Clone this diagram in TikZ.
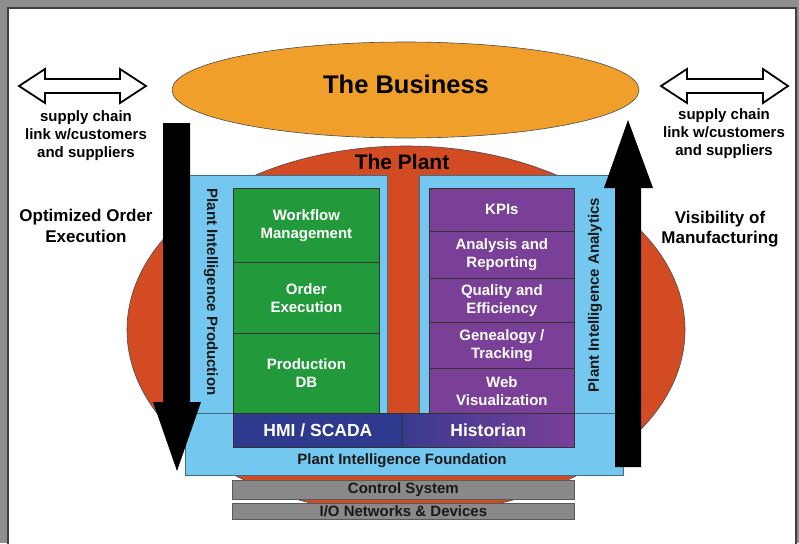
\documentclass[tikz,border=0pt]{standalone}
\usepackage{fontspec}
\setmainfont{Liberation Sans}
\usetikzlibrary{shapes.geometric}
\definecolor{bizorange}{HTML}{F0A02A}
\definecolor{plantred}{HTML}{D24B22}
\definecolor{piblue}{HTML}{74C7EE}
\definecolor{prodgreen}{HTML}{229A3B}
\definecolor{anapurple}{HTML}{7A3F97}
\definecolor{hmiblue}{HTML}{2E3A8E}
\definecolor{ctrlgray}{HTML}{898989}
\definecolor{framegray}{HTML}{8E8E8E}
\begin{document}
\begin{tikzpicture}[x=1pt,y=-1pt,
  blk/.style={draw=black!80, line width=0.8pt, inner sep=0pt, anchor=north west, align=center,
    font=\fontsize{15}{18}\selectfont\bfseries, text=white},
  panel/.style={draw=piblue!55!black, line width=0.6pt, fill=piblue, inner sep=0pt, anchor=north west},
  graybox/.style={draw=black!65, line width=0.8pt, fill=ctrlgray, inner sep=0pt, anchor=north west,
    font=\fontsize{15}{18}\selectfont\bfseries, text=black!90},
  small/.style={font=\fontsize{15}{18}\selectfont\bfseries, align=center, inner sep=0pt},
  side/.style={font=\fontsize{17}{20.5}\selectfont\bfseries, align=center, inner sep=0pt},
  dbl/.style={draw=black, line width=1.8pt, fill=white, line join=miter},
]
\useasboundingbox (0,0) rectangle (799,543);
% frame
\fill[framegray] (0,0) rectangle (799,543);
\draw[fill=white, draw=black!75, line width=1.6pt] (8,8) rectangle (796,560);

% ellipses
\node[ellipse, draw=black!70, line width=0.6pt, fill=plantred, minimum width=558pt, minimum height=368pt, inner sep=0pt] (plant) at (406,330) {};
\node[ellipse, draw=black!70, line width=0.6pt, fill=bizorange, minimum width=467pt, minimum height=96pt, inner sep=0pt] (biz) at (405.5,90) {};
\node[anchor=base, inner sep=0pt, font=\fontsize{25.5}{28}\selectfont\bfseries] (bizlabel) at (406,93) {The Business};
\node[anchor=base, inner sep=0pt, font=\fontsize{21}{24}\selectfont\bfseries] (plantlabel) at (402,169) {The Plant};

% blue panels
\node[panel, minimum width=200pt, minimum height=238pt] (prodpanel) at (187,175) {};
\node[panel, minimum width=201pt, minimum height=238pt] (anapanel) at (419,175) {};
\node[panel, minimum width=438pt, minimum height=62pt] (foundation) at (185,413) {};
\node[small, text=black!90] (foundlabel) at (402,461) {Plant Intelligence Foundation};

% green boxes
\node[blk, fill=prodgreen, minimum width=146pt, minimum height=74pt] (wf) at (233,188) {Workflow\\Management};
\node[blk, fill=prodgreen, minimum width=146pt, minimum height=71pt] (oe) at (233,262) {Order\\Execution};
\node[blk, fill=prodgreen, minimum width=146pt, minimum height=80pt] (pdb) at (233,333) {Production\\DB};

% purple boxes
\node[blk, fill=anapurple, minimum width=145pt, minimum height=43pt] (kpi) at (429,188) {KPIs};
\node[blk, fill=anapurple, minimum width=145pt, minimum height=47pt] (ar) at (429,231) {Analysis and\\Reporting};
\node[blk, fill=anapurple, minimum width=145pt, minimum height=44pt] (qe) at (429,278) {Quality and\\Efficiency};
\node[blk, fill=anapurple, minimum width=145pt, minimum height=46pt] (gt) at (429,322) {Genealogy /\\Tracking};
\node[blk, fill=anapurple, minimum width=145pt, minimum height=46pt] (wv) at (429,368) {Web\\Visualization};

% HMI / Historian
\node[blk, fill=hmiblue, minimum width=169pt, minimum height=34pt, font=\fontsize{17.5}{20}\selectfont\bfseries] (hmi) at (233,413) {HMI / SCADA};
\node[blk, left color=hmiblue!85!anapurple, right color=anapurple, minimum width=172pt, minimum height=34pt, font=\fontsize{17.5}{20}\selectfont\bfseries] (hist) at (402,413) {Historian};

% gray layers
\node[graybox, minimum width=342pt, minimum height=19pt] (ctrl) at (232,480) {Control System};
\node[graybox, minimum width=342pt, minimum height=16pt] (io) at (232,503) {I/O Networks \& Devices};

% vertical labels
\node[small, rotate=-90, text=black!90] (prodlabel) at (211,292) {Plant Intelligence Production};
\node[small, rotate=90, text=black!90] (analabel) at (595,295) {Plant Intelligence Analytics};

% big black arrows
\fill[black] (163,123) -- (190,123) -- (190,402) -- (201,402) -- (177,471) -- (153,402) -- (163,402) -- cycle;
\fill[black] (615,467) -- (641,467) -- (641,188) -- (653,188) -- (628,120) -- (604,188) -- (615,188) -- cycle;

% double arrows
\draw[dbl] (19,86) -- (45,69) -- (45,79) -- (120,79) -- (120,69) -- (146,86) -- (120,103) -- (120,93) -- (45,93) -- (45,103) -- cycle;
\draw[dbl] (661,86) -- (687,69) -- (687,79) -- (763,79) -- (763,69) -- (788,86) -- (763,103) -- (763,93) -- (687,93) -- (687,103) -- cycle;

% side texts
\node[small] (scleft) at (86,136) {supply chain\\link w/customers\\and suppliers};
\node[small] (scright) at (724,134) {supply chain\\link w/customers\\and suppliers};
\node[side] (optlabel) at (86,226) {Optimized Order\\Execution};
\node[side] (vislabel) at (720,229) {Visibility of\\Manufacturing};
\end{tikzpicture}
\end{document}
